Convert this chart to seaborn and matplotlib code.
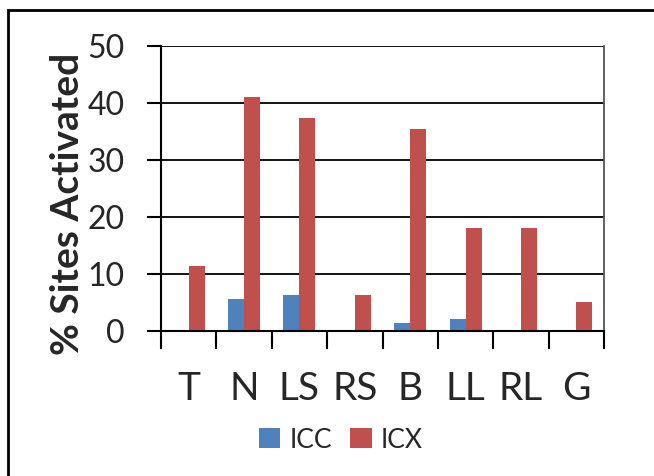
import numpy as np
import matplotlib
matplotlib.use("Agg")
import matplotlib.pyplot as plt
import seaborn as sns
import pandas as pd
from matplotlib.patches import Rectangle

# ── data ─────────────────────────────────────────
sites = ["T", "N", "LS", "RS", "B", "LL", "RL", "G"]
icc = [0.0, 5.55, 6.3, 0.0, 1.35, 2.1, 0.0, 0.0]
icx = [11.45, 41.1, 37.3, 6.4, 35.4, 18.05, 18.05, 5.1]
series = ["ICC", "ICX"]
colors = {"ICC": "#4F81BD", "ICX": "#C0504D"}
yticks = [0, 10, 20, 30, 40, 50]

df = pd.DataFrame({
    "site": sites * 2,
    "value": icc + icx,
    "series": ["ICC"] * len(sites) + ["ICX"] * len(sites),
})

sns.set_style("white")
plt.rcParams["font.family"] = ["Lato", "DejaVu Sans"]

fig = plt.figure(figsize=(6.54, 4.76), dpi=100)
ax = fig.add_axes([161 / 654, 1 - 331 / 476, (604 - 161) / 654, (331 - 46) / 476])

sns.barplot(data=df, x="site", y="value", hue="series", order=sites,
            hue_order=series, palette=colors, width=0.58, gap=0,
            linewidth=0, saturation=1, ax=ax, legend=True)

ax.set_ylim(0, 50)
ax.set_xlim(-0.5, len(sites) - 0.5)
ax.set_yticks(yticks)
ax.set_yticklabels([str(v) for v in yticks])
for v in yticks[1:]:
    ax.axhline(v, color="black", lw=1.3, zorder=0.5)

# category boundary ticks on x
ax.set_xticks(np.arange(-0.5, len(sites) + 0.5, 1), minor=True)
ax.tick_params(axis="x", which="minor", length=13, width=1.5, color="black", bottom=True)
ax.tick_params(axis="x", which="major", length=0, pad=29, labelsize=28)
ax.tick_params(axis="y", which="major", length=10, width=1.5, color="black",
               left=True, pad=16, labelsize=23)

for s in ["left", "bottom"]:
    ax.spines[s].set_color("black")
    ax.spines[s].set_linewidth(1.5)
ax.spines["top"].set_visible(False)
ax.spines["right"].set_color("#555555")
ax.spines["right"].set_linewidth(1.3)

ax.set_xlabel("")
ax.set_ylabel("% Sites Activated", fontsize=28, fontweight="bold")
ax.yaxis.set_label_coords(-0.172, 0.446)

handles, labels = ax.get_legend_handles_labels()
ax.legend(handles, labels, loc="center", bbox_to_anchor=(341 / 654, 1 - 440 / 476),
          bbox_transform=fig.transFigure, ncol=2, frameon=False, fontsize=19,
          handlelength=0.8, handleheight=0.8, handletextpad=0.35, columnspacing=0.7)

# outer frame (only top and left edges fall inside the image)
fig.patches.append(Rectangle((8 / 654, -0.05), 1.1, 1 - 10 / 476 + 0.05,
                             transform=fig.transFigure, fill=False,
                             edgecolor="black", lw=2))

fig.savefig("out.png", dpi=100)
